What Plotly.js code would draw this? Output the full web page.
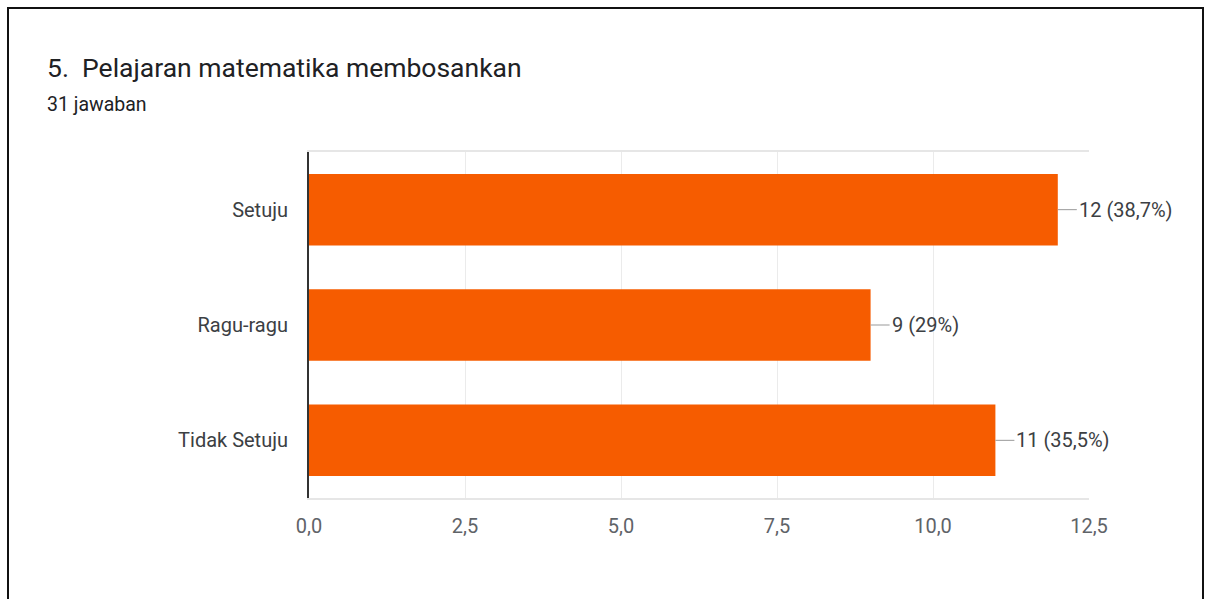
<!DOCTYPE html>
<html>
<head>
<meta charset="utf-8">
<script src="https://cdn.plot.ly/plotly-3.0.1.min.js"></script>
<style>
html,body{margin:0;padding:0;background:#fff;overflow:hidden;}
#frame{position:absolute;left:7px;top:7px;width:1197px;height:620px;border:2px solid #111;box-sizing:border-box;pointer-events:none;z-index:5;}
#chart{position:absolute;left:0;top:0;width:1205px;height:599px;}
</style>
</head>
<body>
<div id="chart"></div>
<div id="frame"></div>
<script>
const categories = ["Setuju", "Ragu-ragu", "Tidak Setuju"];
const counts = [12, 9, 11];
const percentLabels = ["38,7%", "29%", "35,5%"];
const titleText = "5.  Pelajaran matematika membosankan";
const subtitleText = "31 jawaban";

const W = 1205, H = 599;
const L = 309, R = 1089, T = 152, B = 498;
const FONT = 'Roboto, Arial, sans-serif';

const barAnnotations = categories.map((c, i) => ({
  x: counts[i], y: c, xref: 'x', yref: 'y',
  text: counts[i] + ' (' + percentLabels[i] + ')',
  showarrow: true, arrowhead: 0, arrowwidth: 1, arrowcolor: '#999999',
  ax: 19, ay: 0, xanchor: 'left', standoff: 0,
  font: {family: FONT, size: 20, color: '#3c4043'}
}));

const pw = R - L, ph = B - T;
const annotations = barAnnotations.concat([
  {xref: 'paper', yref: 'paper', x: (45 - L) / pw, y: (B - 67) / ph, xanchor: 'left', yanchor: 'middle',
   text: titleText, showarrow: false, font: {family: FONT, size: 26.5, color: '#202124'}},
  {xref: 'paper', yref: 'paper', x: (45 - L) / pw, y: (B - 104) / ph, xanchor: 'left', yanchor: 'middle',
   text: subtitleText, showarrow: false, font: {family: FONT, size: 19.5, color: '#202124'}}
]);

const data = [{
  type: 'bar', orientation: 'h',
  x: counts, y: categories,
  marker: {color: '#f65c00'},
  width: 0.62,
  hoverinfo: 'x+y'
}];

const layout = {
  width: W, height: H,
  margin: {l: L, r: W - R, t: T, b: H - B, pad: 0},
  paper_bgcolor: '#ffffff', plot_bgcolor: '#ffffff',
  separators: ',.',
  showlegend: false,
  font: {family: FONT, size: 20, color: '#5f6368'},
  xaxis: {
    range: [0, 12.5], dtick: 2.5, tick0: 0, tickformat: '.1f',
    showgrid: true, gridcolor: '#ebebeb', gridwidth: 1,
    zeroline: false,
    showline: true, linecolor: '#e6e6e6', linewidth: 2, mirror: true,
    ticks: '', ticklabelstandoff: 9,
    tickfont: {family: FONT, size: 20, color: '#5f6368'},
    fixedrange: true
  },
  yaxis: {
    autorange: 'reversed',
    showgrid: false, zeroline: false,
    showline: true, linecolor: '#333333', linewidth: 2,
    ticks: '', ticklabelstandoff: 15,
    tickfont: {family: FONT, size: 20, color: '#3c4043'},
    fixedrange: true
  },
  annotations: annotations
};

Plotly.newPlot('chart', data, layout, {displayModeBar: false, staticPlot: true});
</script>
</body>
</html>
